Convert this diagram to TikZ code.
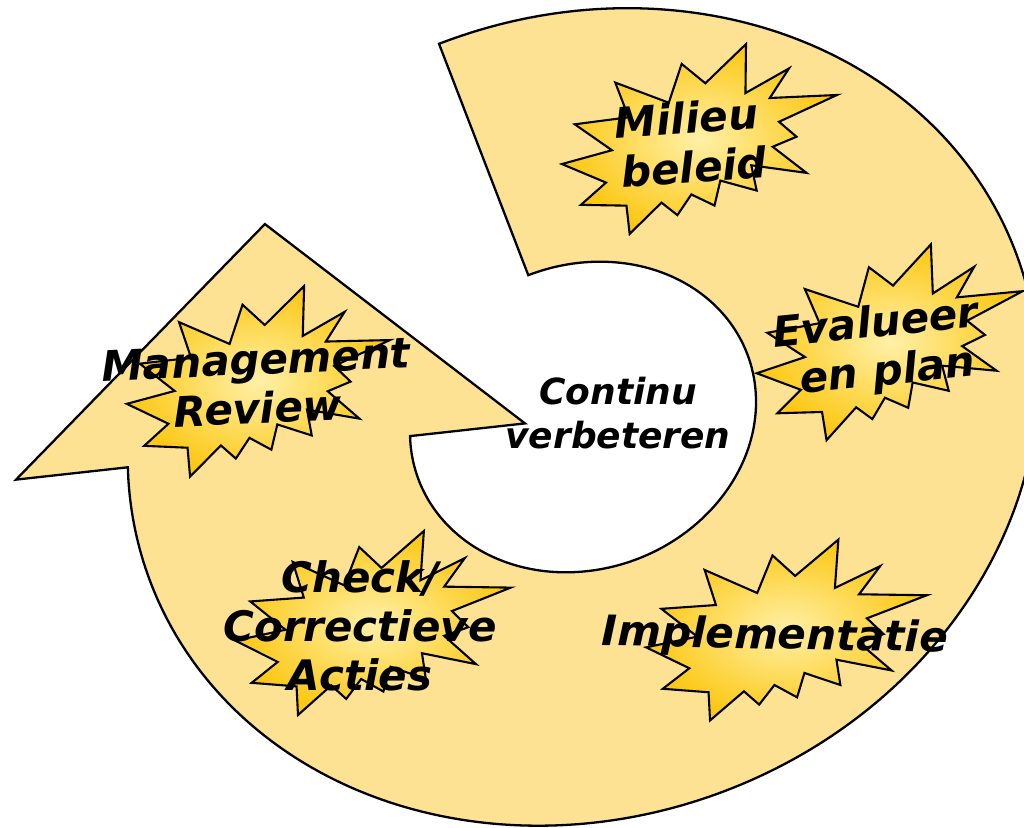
\documentclass[tikz,border=0pt]{standalone}
\usepackage{fontspec}
\setmainfont{DejaVu Sans}
\definecolor{ringfill}{RGB}{254,226,148}
\definecolor{burstin}{RGB}{255,240,168}
\definecolor{burstout}{RGB}{252,200,20}
% explosion outline, normalised to the box [-1,1]x[-1,1]
\newcommand{\bangpath}{(0.0615,0.5981) -- (-0.0998,0.8253) -- (-0.2085,0.4090) -- (-0.5831,0.6643) -- (-0.5025,0.2763) -- (-0.8913,0.2343) -- (-0.6357,-0.0733) -- (-1,-0.1921) -- (-0.6918,-0.4233) -- (-0.8812,-0.6504) -- (-0.5552,-0.6888) -- (-0.5446,-1) -- (-0.3032,-0.6782) -- (-0.1946,-0.8252) -- (-0.0860,-0.6084) -- (0.0754,-0.7448) -- (0.1276,-0.4756) -- (0.3836,-0.6084) -- (0.3556,-0.3285) -- (0.7480,-0.4474) -- (0.5169,-0.1399) -- (0.6917,-0.0456) -- (0.5728,0.1293) -- (1,0.3846) -- (0.5169,0.3951) -- (0.6671,0.7063) -- (0.3448,0.4650) -- (0.3694,1) -- cycle}
\begin{document}
\begin{tikzpicture}[x=1pt,y=1pt,line width=2.3pt,
  burst/.style={draw=black,line width=2.1pt,inner color=burstin,outer color=burstout},
  lbl/.style={font=\fontsize{42}{49}\selectfont\bfseries\itshape,align=center,inner sep=0pt}]
\useasboundingbox (0,0) rectangle (1024,827);
\clip (0,0) rectangle (1024,827);
\begin{scope}[shift={(583,410)},rotate=21.1,xscale=463,yscale=400]
\draw[fill=ringfill] (90:1) arc[start angle=90,end angle=-197,radius=1] -- (163:1.2456) -- (123.7:0.885) -- (163:0.1275) -- (163:0.38) arc[start angle=-197,end angle=90,radius=0.38] -- cycle;
\end{scope}
\path[burst,shift={(700,688.7)},rotate=3.4,xscale=139.4,yscale=91.3] \bangpath;
\path[burst,shift={(258.7,446.1)},rotate=2.2,xscale=132.7,yscale=93] \bangpath;
\path[burst,shift={(890.6,486)},rotate=6.2,xscale=136.6,yscale=91.7] \bangpath;
\path[burst,shift={(373,204)},xscale=137.7,yscale=92] \bangpath;
\path[burst,shift={(786.5,197)},xscale=140.4,yscale=90.4] \bangpath;
\node[lbl,rotate=4] (milieu) at (688,684.7) {Milieu\\\hspace*{.2em}beleid};
\node[lbl,rotate=5.8] (evalueer) at (878,477.5) {Evalueer\\\hspace*{.35em}en plan};
\node[lbl,rotate=-1.1] (impl) at (775,189.7) {Implementatie};
\node[lbl] (check) at (360,201.6) {Check/\\Correctieve\\Acties};
\node[lbl,rotate=2.5] (review) at (257,443) {Management\\Review};
\node[lbl,font=\fontsize{36}{44}\selectfont\bfseries\itshape] (continu) at (618,413.7) {Continu\\verbeteren};
\end{tikzpicture}
\end{document}
